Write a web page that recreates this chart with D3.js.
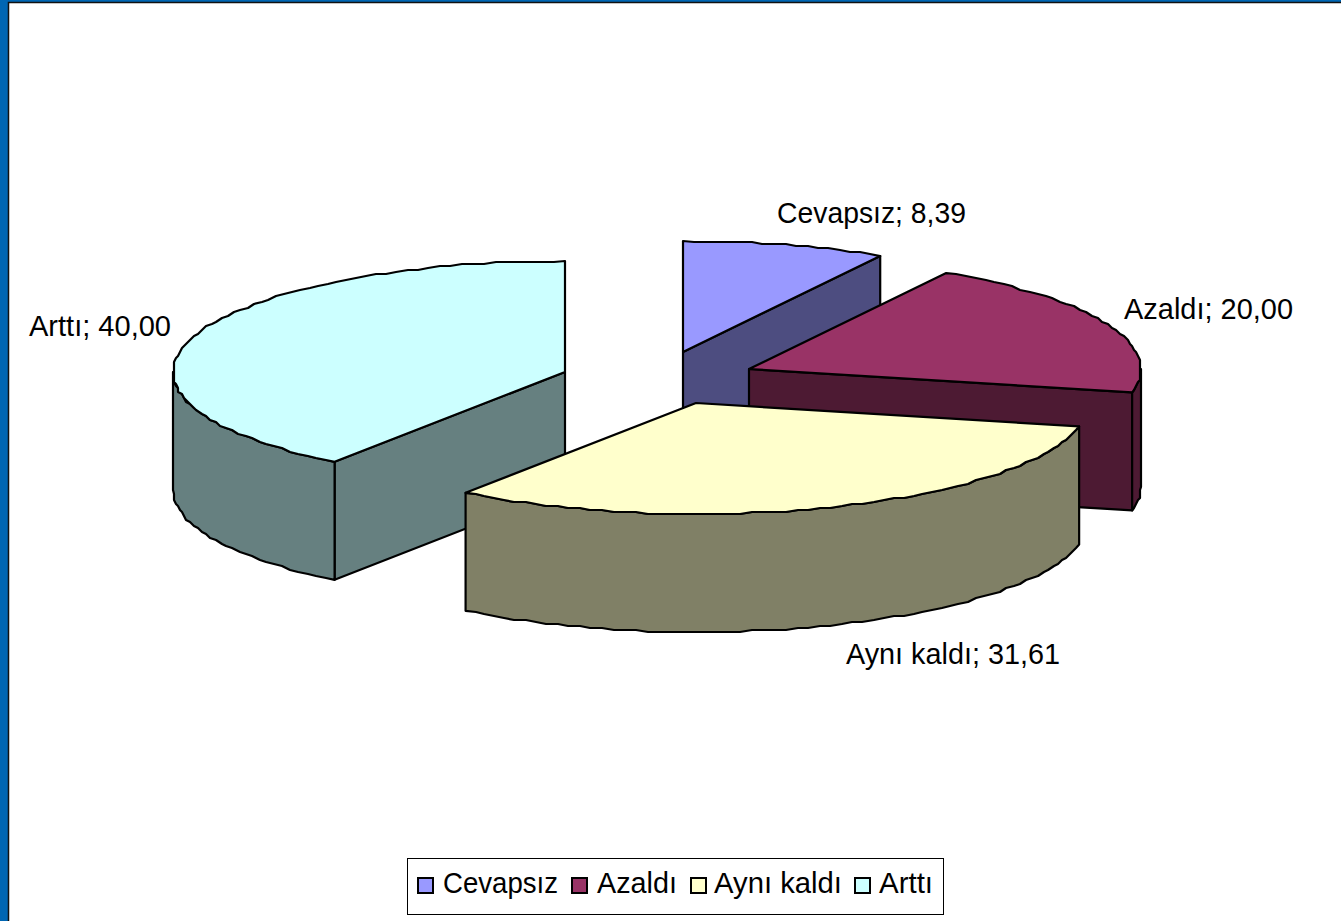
<!DOCTYPE html>
<html>
<head>
<meta charset="utf-8">
<script src="https://cdn.jsdelivr.net/npm/d3@7"></script>
<style>
  html, body { margin: 0; padding: 0; background: #fff; }
  svg { display: block; }
  text { font-family: "Liberation Sans", Arial, sans-serif; fill: #000; }
</style>
</head>
<body>
<div id="chart"></div>
<script>
const categories = ['Cevapsız', 'Azaldı', 'Aynı kaldı', 'Arttı']
const values = [8.39, 20.0, 31.61, 40.0]
const topColors = ['#9999ff', '#993366', '#ffffcc', '#ccffff']
const sideColors = ['#4d4d80', '#4d1a33', '#808066', '#668080']

const width = 1341
const height = 921

// where each exploded slice has its point, same order as categories
const apexes = [[683, 352], [749, 369], [696, 403], [565, 372]]
const labelSpots = [[777, 223], [1124, 319], [846, 664], [29, 336]]
const labelWidths = [189, 169, 214, 142]
const drawOrder = [0, 3, 1, 2]

const rx = 392
const ry = 111
const depth = 118
const step = (1.7 * Math.PI) / 180

const svg = d3
  .select('#chart')
  .append('svg')
  .attr('width', width)
  .attr('height', height)

// blue slide background and the frame of the chart area
svg.append('rect').attr('width', width).attr('height', height).attr('fill', '#0066b3')
svg
  .append('rect')
  .attr('x', 8.5)
  .attr('y', 2.5)
  .attr('width', width)
  .attr('height', height)
  .attr('fill', '#fff')
  .attr('stroke', '#111')
  .attr('stroke-width', 1.5)

const slices = d3.pie().sort(null)(values)

const pointAt = (apex, t) => [apex[0] + rx * Math.sin(t), apex[1] - ry * Math.cos(t)]

// the original rim is stair-stepped, so snap the points to a coarse grid
function rim(apex, from, to) {
  const n = Math.max(1, Math.round((to - from) / step))
  return d3.range(n + 1).map(i => {
    const p = pointAt(apex, from + ((to - from) * i) / n)
    if (i === 0 || i === n) return p
    return [Math.round(p[0] / 2) * 2, Math.round(p[1] / 2) * 2]
  })
}

const lower = p => [p[0], p[1] + depth]
const line = d3.line()

function face(points, fill) {
  svg
    .append('path')
    .attr('d', line(points) + 'Z')
    .attr('fill', fill)
    .attr('stroke', '#000')
    .attr('stroke-width', 2.2)
    .attr('stroke-linejoin', 'round')
}

drawOrder.forEach(i => {
  const s = slices[i]
  const apex = apexes[i]

  // cut faces, only the ones turned towards the viewer
  if (s.endAngle < Math.PI) {
    const p = pointAt(apex, s.endAngle)
    face([apex, p, lower(p), lower(apex)], sideColors[i])
  }
  if (s.startAngle > Math.PI) {
    const p = pointAt(apex, s.startAngle)
    face([apex, p, lower(p), lower(apex)], sideColors[i])
  }

  // outer wall on the front half
  const wallFrom = Math.max(s.startAngle, Math.PI / 2)
  const wallTo = Math.min(s.endAngle, (3 * Math.PI) / 2)
  if (wallFrom < wallTo) {
    const edge = rim(apex, wallFrom, wallTo)
    face(edge.concat(edge.map(lower).reverse()), sideColors[i])
  }

  // top
  face([apex].concat(rim(apex, s.startAngle, s.endAngle)), topColors[i])
})

const commaFormat = d3.formatLocale({
  decimal: ',',
  thousands: '.',
  grouping: [3],
  currency: ['', '']
}).format('.2f')

svg
  .selectAll('.label')
  .data(categories)
  .enter()
  .append('text')
  .attr('class', 'label')
  .attr('x', (d, i) => labelSpots[i][0])
  .attr('y', (d, i) => labelSpots[i][1])
  .attr('font-size', 29)
  .attr('textLength', (d, i) => labelWidths[i])
  .attr('lengthAdjust', 'spacingAndGlyphs')
  .text((d, i) => d + '; ' + commaFormat(values[i]))

// legend
svg
  .append('rect')
  .attr('x', 407.5)
  .attr('y', 858.5)
  .attr('width', 536)
  .attr('height', 56)
  .attr('fill', '#fff')
  .attr('stroke', '#000')
  .attr('stroke-width', 1)

const legendSwatchX = [418, 572, 691, 855]
const legendTextX = [443, 597, 714, 879]
const legendTextWidths = [115, 80, 128, 54]

categories.forEach((d, i) => {
  svg
    .append('rect')
    .attr('x', legendSwatchX[i])
    .attr('y', 878)
    .attr('width', 15)
    .attr('height', 15)
    .attr('fill', topColors[i])
    .attr('stroke', '#000')
    .attr('stroke-width', 2)
  svg
    .append('text')
    .attr('x', legendTextX[i])
    .attr('y', 893)
    .attr('font-size', 29)
    .attr('textLength', legendTextWidths[i])
    .attr('lengthAdjust', 'spacingAndGlyphs')
    .text(d)
})
</script>
</body>
</html>
